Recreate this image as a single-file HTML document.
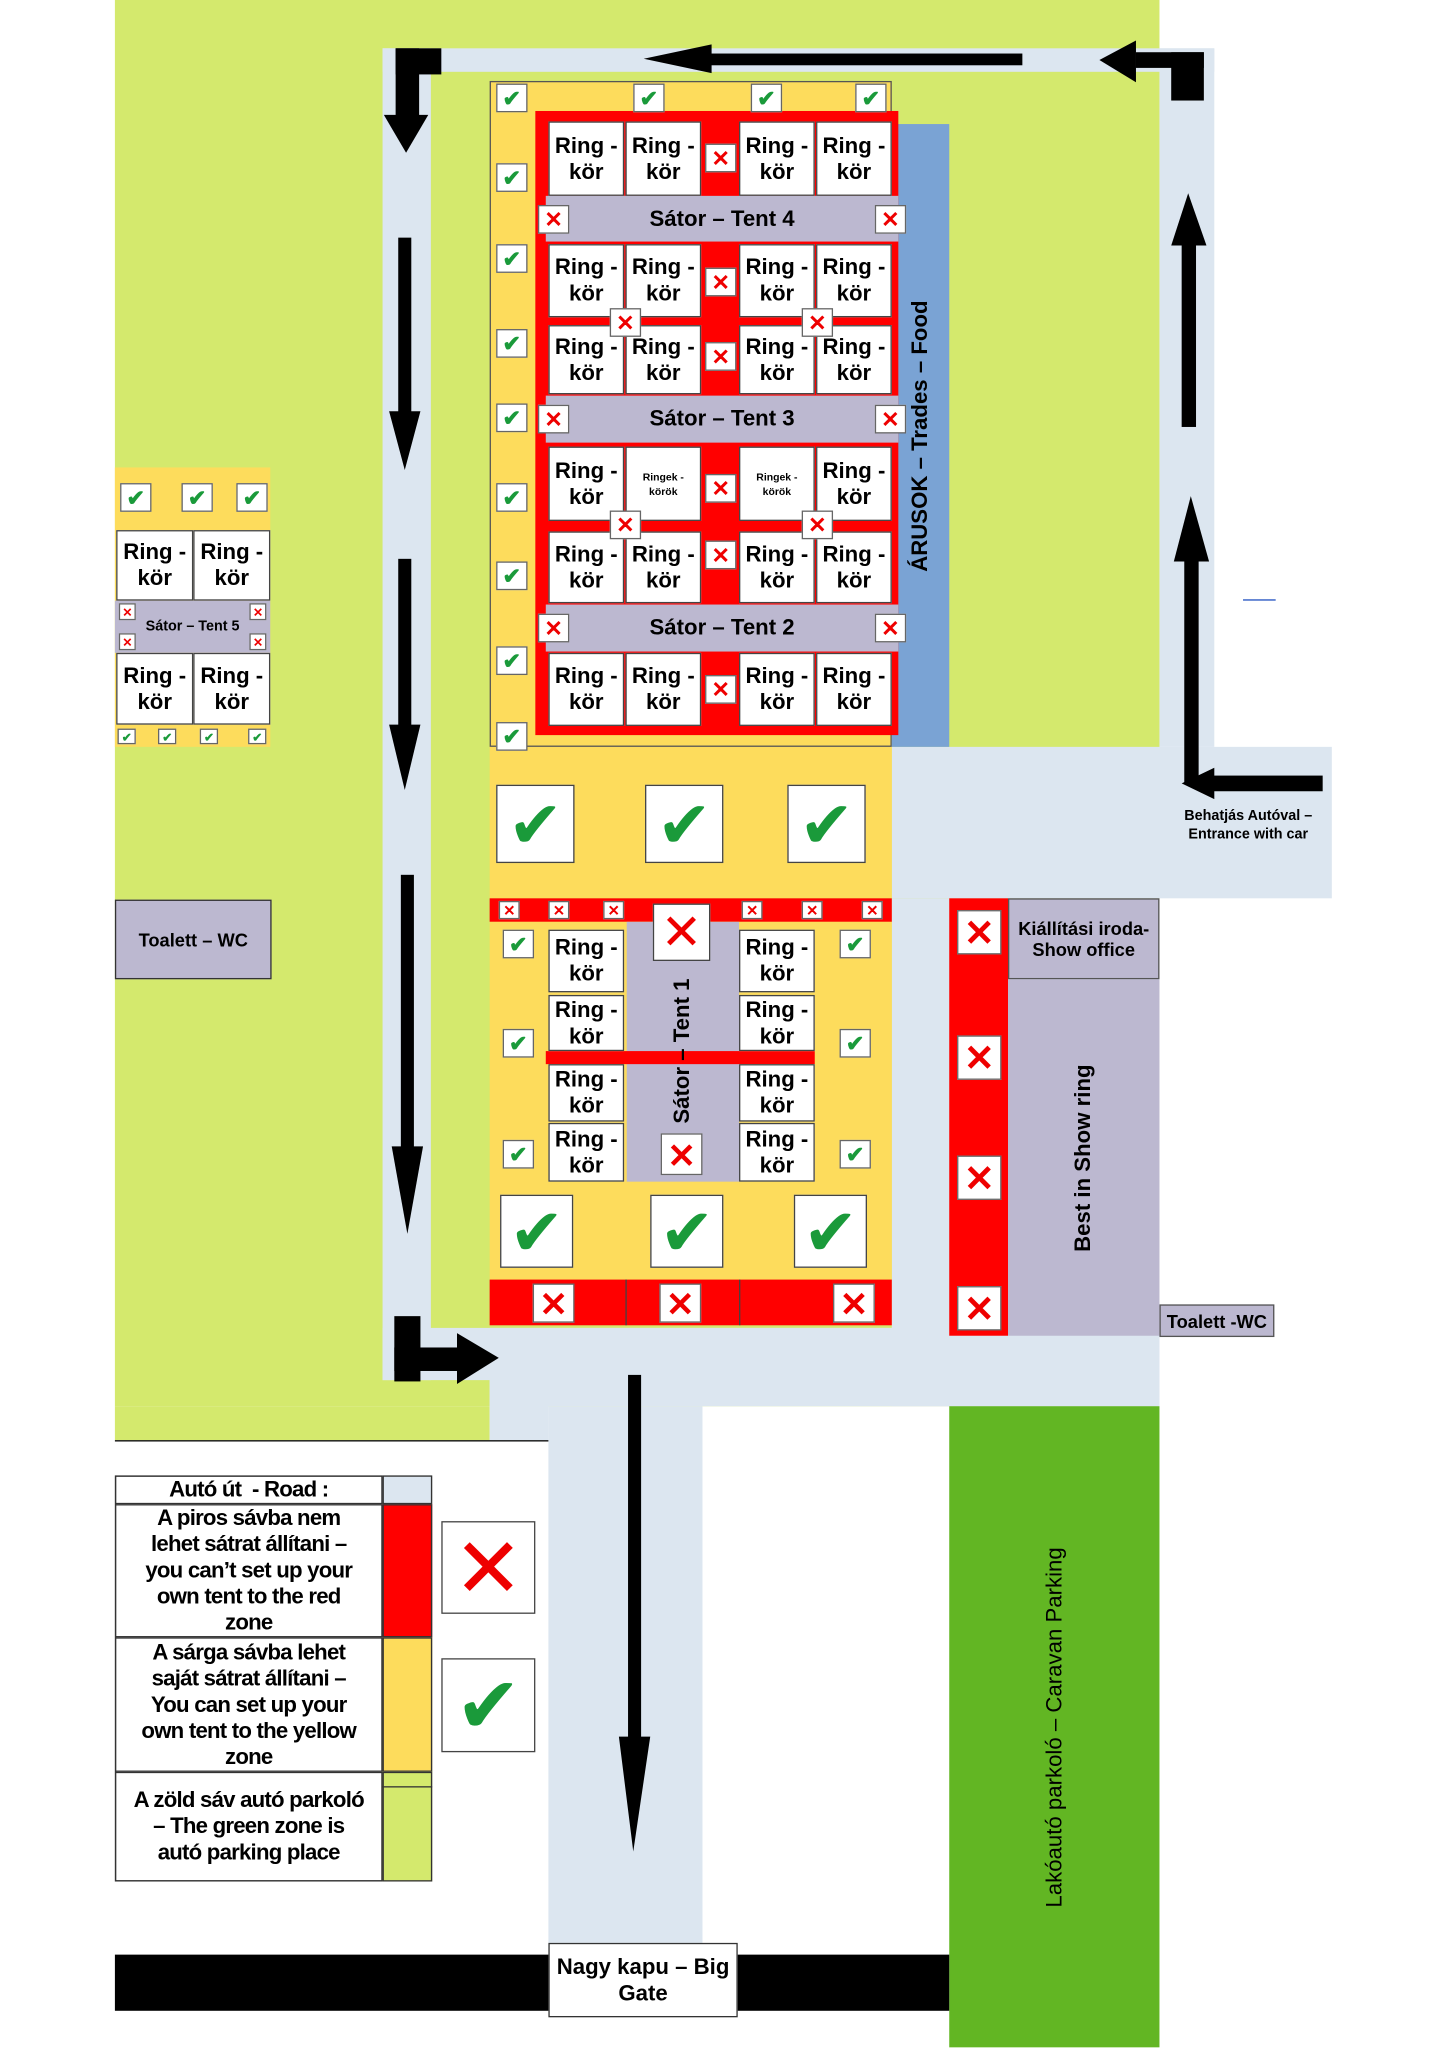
<!DOCTYPE html>
<html><head><meta charset="utf-8"><style>
body{margin:0;width:1448px;height:2048px;overflow:hidden;background:#fff}
#w{position:absolute;left:0;top:0;width:1109px;height:1568px;transform:scale(1.3057);transform-origin:0 0;font-family:"Liberation Sans",sans-serif}
#w div{position:absolute;box-sizing:border-box}
.g{background:#d4e96d}.rd{background:#dce6f0}.y{background:#fddc5c}.red{background:#f00}.gr{background:#bcb8d0}
.r{background:#fff;border:1px solid #444;width:58px;font-weight:bold;font-size:17px;line-height:20px;text-align:center;display:flex;align-items:center;justify-content:center}
.ck,.xx{background:#fff;border:1px solid #666;width:24px;height:22px;text-align:center;font-size:17px;line-height:22px;font-weight:bold}
.ck{color:#1a9a3a}.xx{color:#e00}
.bc,.bx{background:#fff;border:1px solid #444;width:60px;height:60px;text-align:center;font-size:50px;line-height:60px}
.bc{color:#1a9a3a}.bx{color:#e00}
.k{background:#000}
.t{font-weight:bold;text-align:center;display:flex;align-items:center;justify-content:center}
.s{font-size:8px!important;line-height:11px!important}
.lg{letter-spacing:-0.6px;white-space:nowrap}
</style></head><body><div id="w">
<!-- green -->
<div class="g" style="left:88px;top:0;width:800px;height:1077px"></div>
<div class="g" style="left:88px;top:1077px;width:287px;height:26px"></div>
<!-- roads -->
<div class="rd" style="left:293px;top:37px;width:637px;height:18px"></div>
<div class="rd" style="left:888px;top:37px;width:42px;height:535px"></div>
<div class="rd" style="left:293px;top:37px;width:37px;height:1020px"></div>
<div class="rd" style="left:683px;top:572px;width:337px;height:116px"></div>
<div class="rd" style="left:683px;top:688px;width:205px;height:389px"></div>
<div class="rd" style="left:293px;top:1017px;width:595px;height:40px"></div>
<div class="rd" style="left:375px;top:1017px;width:513px;height:60px"></div>
<div class="rd" style="left:375px;top:1057px;width:45px;height:46px"></div>
<div class="rd" style="left:420px;top:1077px;width:118px;height:420px"></div>
<div style="left:88px;top:1103px;width:332px;height:1px;background:#000"></div>
<!-- main tent area -->
<div class="y" style="left:375px;top:62px;width:308px;height:626px"></div>
<div style="left:375px;top:62px;width:308px;height:510px;border:1px solid #555"></div>
<div style="left:683px;top:95px;width:44px;height:477px;background:#7aa3d4"></div>
<div style="left:683px;top:95px;width:44px;height:477px;display:flex;align-items:center;justify-content:center"><span style="transform:rotate(-90deg);white-space:nowrap;font-weight:bold;font-size:17px">ÁRUSOK – Trades – Food</span></div>
<div class="red" style="left:410px;top:85px;width:278px;height:478px"></div>
<div class="gr t" style="left:418px;top:150px;width:270px;height:35px;font-size:17px">Sátor – Tent 4</div>
<div class="gr t" style="left:418px;top:303px;width:270px;height:36px;font-size:17px">Sátor – Tent 3</div>
<div class="gr t" style="left:418px;top:463px;width:270px;height:36px;font-size:17px">Sátor – Tent 2</div>
<!-- rows -->
<div class="r" style="left:420px;top:93px;height:57px">Ring -<br>kör</div><div class="r" style="left:479px;top:93px;height:57px">Ring -<br>kör</div><div class="r" style="left:566px;top:93px;height:57px">Ring -<br>kör</div><div class="r" style="left:625px;top:93px;height:57px">Ring -<br>kör</div>
<div class="r" style="left:420px;top:187px;height:56px">Ring -<br>kör</div><div class="r" style="left:479px;top:187px;height:56px">Ring -<br>kör</div><div class="r" style="left:566px;top:187px;height:56px">Ring -<br>kör</div><div class="r" style="left:625px;top:187px;height:56px">Ring -<br>kör</div>
<div class="r" style="left:420px;top:249px;height:53px">Ring -<br>kör</div><div class="r" style="left:479px;top:249px;height:53px">Ring -<br>kör</div><div class="r" style="left:566px;top:249px;height:53px">Ring -<br>kör</div><div class="r" style="left:625px;top:249px;height:53px">Ring -<br>kör</div>
<div class="r" style="left:420px;top:342px;height:57px">Ring -<br>kör</div><div class="r s" style="left:479px;top:342px;height:57px">Ringek -<br>körök</div><div class="r s" style="left:566px;top:342px;height:57px">Ringek -<br>körök</div><div class="r" style="left:625px;top:342px;height:57px">Ring -<br>kör</div>
<div class="r" style="left:420px;top:407px;height:55px">Ring -<br>kör</div><div class="r" style="left:479px;top:407px;height:55px">Ring -<br>kör</div><div class="r" style="left:566px;top:407px;height:55px">Ring -<br>kör</div><div class="r" style="left:625px;top:407px;height:55px">Ring -<br>kör</div>
<div class="r" style="left:420px;top:500px;height:56px">Ring -<br>kör</div><div class="r" style="left:479px;top:500px;height:56px">Ring -<br>kör</div><div class="r" style="left:566px;top:500px;height:56px">Ring -<br>kör</div><div class="r" style="left:625px;top:500px;height:56px">Ring -<br>kör</div>
<!-- x icons main -->
<div class="xx" style="left:540px;top:110px">✕</div><div class="xx" style="left:540px;top:205px">✕</div><div class="xx" style="left:540px;top:262px">✕</div><div class="xx" style="left:540px;top:363px">✕</div><div class="xx" style="left:540px;top:414px">✕</div><div class="xx" style="left:540px;top:517px">✕</div>
<div class="xx" style="left:412px;top:157px">✕</div><div class="xx" style="left:670px;top:157px">✕</div><div class="xx" style="left:412px;top:310px">✕</div><div class="xx" style="left:670px;top:310px">✕</div><div class="xx" style="left:412px;top:470px">✕</div><div class="xx" style="left:670px;top:470px">✕</div>
<div class="xx" style="left:467px;top:236px">✕</div><div class="xx" style="left:614px;top:236px">✕</div><div class="xx" style="left:467px;top:391px">✕</div><div class="xx" style="left:614px;top:391px">✕</div>
<!-- check icons left column -->
<div class="ck" style="left:380px;top:64px">✔</div><div class="ck" style="left:485px;top:64px">✔</div><div class="ck" style="left:575px;top:64px">✔</div><div class="ck" style="left:655px;top:64px">✔</div>
<div class="ck" style="left:380px;top:125px">✔</div><div class="ck" style="left:380px;top:187px">✔</div><div class="ck" style="left:380px;top:252px">✔</div><div class="ck" style="left:380px;top:309px">✔</div><div class="ck" style="left:380px;top:370px">✔</div><div class="ck" style="left:380px;top:430px">✔</div><div class="ck" style="left:380px;top:495px">✔</div><div class="ck" style="left:380px;top:553px">✔</div>
<div class="bc" style="left:380px;top:601px">✔</div><div class="bc" style="left:494px;top:601px">✔</div><div class="bc" style="left:603px;top:601px">✔</div>
<!-- tent 1 -->
<div class="red" style="left:375px;top:688px;width:308px;height:18px"></div>
<div class="y" style="left:375px;top:706px;width:308px;height:274px"></div>
<div class="gr" style="left:480px;top:706px;width:86px;height:199px"></div>
<div class="red" style="left:418px;top:805px;width:206px;height:10px"></div>
<div class="r" style="left:420px;top:712px;height:48px">Ring -<br>kör</div><div class="r" style="left:420px;top:762px;height:43px">Ring -<br>kör</div><div class="r" style="left:420px;top:815px;height:44px">Ring -<br>kör</div><div class="r" style="left:420px;top:860px;height:45px">Ring -<br>kör</div>
<div class="r" style="left:566px;top:712px;height:48px">Ring -<br>kör</div><div class="r" style="left:566px;top:762px;height:43px">Ring -<br>kör</div><div class="r" style="left:566px;top:815px;height:44px">Ring -<br>kör</div><div class="r" style="left:566px;top:860px;height:45px">Ring -<br>kör</div>
<div style="left:480px;top:740px;width:86px;height:130px;display:flex;align-items:center;justify-content:center"><span style="transform:rotate(-90deg);white-space:nowrap;font-weight:bold;font-size:17px">Sátor – Tent 1</span></div>
<div class="bx" style="left:500px;top:692px;width:44px;height:44px;font-size:38px;line-height:44px">✕</div>
<div class="xx" style="left:506px;top:868px;width:32px;height:32px;font-size:26px;line-height:32px">✕</div>
<div class="ck" style="left:385px;top:712px">✔</div><div class="ck" style="left:385px;top:788px">✔</div><div class="ck" style="left:385px;top:873px">✔</div>
<div class="ck" style="left:643px;top:712px">✔</div><div class="ck" style="left:643px;top:788px">✔</div><div class="ck" style="left:643px;top:873px">✔</div>
<div class="xx" style="left:382px;top:690px;width:16px;height:14px;font-size:11px;line-height:14px">✕</div><div class="xx" style="left:420px;top:690px;width:16px;height:14px;font-size:11px;line-height:14px">✕</div><div class="xx" style="left:462px;top:690px;width:16px;height:14px;font-size:11px;line-height:14px">✕</div><div class="xx" style="left:568px;top:690px;width:16px;height:14px;font-size:11px;line-height:14px">✕</div><div class="xx" style="left:614px;top:690px;width:16px;height:14px;font-size:11px;line-height:14px">✕</div><div class="xx" style="left:660px;top:690px;width:16px;height:14px;font-size:11px;line-height:14px">✕</div>
<div class="bc" style="left:383px;top:915px;width:56px;height:56px;line-height:56px">✔</div><div class="bc" style="left:498px;top:915px;width:56px;height:56px;line-height:56px">✔</div><div class="bc" style="left:608px;top:915px;width:56px;height:56px;line-height:56px">✔</div>
<div class="red" style="left:375px;top:980px;width:308px;height:35px"></div>
<div style="left:479px;top:980px;width:1px;height:35px;background:#444"></div><div style="left:566px;top:980px;width:1px;height:35px;background:#444"></div>
<div class="xx" style="left:408px;top:983px;width:32px;height:30px;font-size:26px;line-height:30px">✕</div><div class="xx" style="left:505px;top:983px;width:32px;height:30px;font-size:26px;line-height:30px">✕</div><div class="xx" style="left:638px;top:983px;width:32px;height:30px;font-size:26px;line-height:30px">✕</div>
<!-- show ring -->
<div class="red" style="left:727px;top:688px;width:45px;height:335px"></div>
<div class="gr t" style="left:772px;top:688px;width:116px;height:62px;border:1px solid #555;font-size:14px">Kiállítási iroda-<br>Show office</div>
<div class="gr" style="left:772px;top:750px;width:116px;height:273px"></div>
<div style="left:772px;top:750px;width:116px;height:273px;display:flex;align-items:center;justify-content:center"><span style="transform:rotate(-90deg);white-space:nowrap;font-weight:bold;font-size:17px">Best in Show ring</span></div>
<div class="xx" style="left:733px;top:697px;width:34px;height:34px;font-size:28px;line-height:34px">✕</div><div class="xx" style="left:733px;top:793px;width:34px;height:34px;font-size:28px;line-height:34px">✕</div><div class="xx" style="left:733px;top:885px;width:34px;height:34px;font-size:28px;line-height:34px">✕</div><div class="xx" style="left:733px;top:985px;width:34px;height:34px;font-size:28px;line-height:34px">✕</div>
<div class="gr t" style="left:888px;top:999px;width:88px;height:25px;border:1px solid #555;font-size:14px">Toalett -WC</div>
<div class="t" style="left:890px;top:612px;width:132px;height:40px;font-size:11px;line-height:14px">Behatjás Autóval –<br>Entrance with car</div>
<div style="left:952px;top:459px;width:25px;height:1px;background:#2050c0"></div>
<!-- tent 5 -->
<div class="y" style="left:88px;top:358px;width:119px;height:214px"></div>
<div class="gr" style="left:88px;top:460px;width:119px;height:40px"></div>
<div class="ck" style="left:92px;top:370px">✔</div><div class="ck" style="left:139px;top:370px">✔</div><div class="ck" style="left:181px;top:370px">✔</div>
<div class="r" style="left:89px;top:406px;width:59px;height:54px">Ring -<br>kör</div><div class="r" style="left:148px;top:406px;width:59px;height:54px">Ring -<br>kör</div>
<div class="r" style="left:89px;top:500px;width:59px;height:55px">Ring -<br>kör</div><div class="r" style="left:148px;top:500px;width:59px;height:55px">Ring -<br>kör</div>
<div class="t" style="left:88px;top:470px;width:119px;height:20px;font-size:11px">Sátor – Tent 5</div>
<div class="xx" style="left:91px;top:462px;width:13px;height:13px;font-size:9px;line-height:13px">✕</div><div class="xx" style="left:191px;top:462px;width:13px;height:13px;font-size:9px;line-height:13px">✕</div><div class="xx" style="left:91px;top:485px;width:13px;height:13px;font-size:9px;line-height:13px">✕</div><div class="xx" style="left:191px;top:485px;width:13px;height:13px;font-size:9px;line-height:13px">✕</div>
<div class="ck" style="left:90px;top:558px;width:14px;height:12px;font-size:9px;line-height:12px">✔</div><div class="ck" style="left:121px;top:558px;width:14px;height:12px;font-size:9px;line-height:12px">✔</div><div class="ck" style="left:153px;top:558px;width:14px;height:12px;font-size:9px;line-height:12px">✔</div><div class="ck" style="left:190px;top:558px;width:14px;height:12px;font-size:9px;line-height:12px">✔</div>
<div class="gr t" style="left:88px;top:689px;width:120px;height:61px;border:1px solid #333;font-size:14px">Toalett – WC</div>
<!-- caravan, gate -->
<div style="left:727px;top:1077px;width:161px;height:491px;background:#62b623"></div>
<div style="left:727px;top:1077px;width:161px;height:491px;display:flex;align-items:center;justify-content:center"><span style="transform:rotate(-90deg);white-space:nowrap;font-size:17px">Lakóautó parkoló – Caravan Parking</span></div>
<div class="k" style="left:88px;top:1497px;width:639px;height:43px"></div>
<div class="t" style="left:420px;top:1488px;width:145px;height:57px;background:#fff;border:1px solid #333;font-size:17px;line-height:20px">Nagy kapu – Big<br>Gate</div>
<!-- legend -->
<div style="left:88px;top:1130px;width:243px;height:311px;border:1px solid #333;background:#fff"></div>
<div class="t lg" style="left:88px;top:1130px;width:205px;height:22px;border:1px solid #333;font-size:17px">Autó út &nbsp;- Road :</div>
<div class="rd" style="left:293px;top:1130px;width:38px;height:22px;border:1px solid #333"></div>
<div class="t lg" style="left:88px;top:1152px;width:205px;height:102px;border:1px solid #333;font-size:17px;line-height:20px">A piros sávba nem<br>lehet sátrat állítani –<br>you can’t set up your<br>own tent to the red<br>zone</div>
<div class="red" style="left:293px;top:1152px;width:38px;height:102px;border:1px solid #333"></div>
<div class="t lg" style="left:88px;top:1254px;width:205px;height:103px;border:1px solid #333;font-size:17px;line-height:20px">A sárga sávba lehet<br>saját sátrat állítani –<br>You can set up your<br>own tent to the yellow<br>zone</div>
<div class="y" style="left:293px;top:1254px;width:38px;height:103px;border:1px solid #333"></div>
<div class="t lg" style="left:88px;top:1357px;width:205px;height:84px;border:1px solid #333;font-size:17px;line-height:20px">A zöld sáv autó parkoló<br>– The green zone is<br>autó parking place</div>
<div class="g" style="left:293px;top:1357px;width:38px;height:84px;border:1px solid #333"></div>
<div style="left:293px;top:1368px;width:38px;height:1px;background:#333"></div>
<div class="bx" style="left:338px;top:1165px;width:72px;height:71px;font-size:64px;line-height:71px">✕</div>
<div class="bc" style="left:338px;top:1270px;width:72px;height:72px;font-size:60px;line-height:72px">✔</div>
<!-- arrows -->
<svg style="position:absolute;left:0;top:0" width="1109" height="1568">
<g fill="#000">
<rect x="530" y="41" width="253" height="9"/><polygon points="493,45 545,34 545,56"/>
<rect x="897" y="40" width="25" height="37"/><rect x="870" y="40" width="52" height="12"/><polygon points="842,46 870,31 870,63"/>
<rect x="303" y="37" width="35" height="20"/><rect x="303" y="37" width="18" height="55"/><polygon points="294,88 328,88 311,117"/>
<rect x="305" y="182" width="10" height="135"/><polygon points="298,315 322,315 310,360"/>
<rect x="305" y="428" width="10" height="130"/><polygon points="298,555 322,555 310,605"/>
<rect x="307" y="670" width="10" height="210"/><polygon points="300,878 324,878 312,945"/>
<rect x="905" y="185" width="11" height="142"/><polygon points="897,188 924,188 910,148"/>
<rect x="907" y="425" width="11" height="175"/><polygon points="899,430 926,430 912,380"/>
<rect x="925" y="594" width="88" height="12"/><polygon points="905,600 930,588 930,612"/>
<rect x="302" y="1008" width="20" height="50"/><rect x="302" y="1032" width="50" height="18"/><polygon points="350,1021 382,1040 350,1060"/>
<rect x="481" y="1053" width="10" height="280"/><polygon points="474,1330 498,1330 485,1418"/>
</g></svg>
</div></body></html>
